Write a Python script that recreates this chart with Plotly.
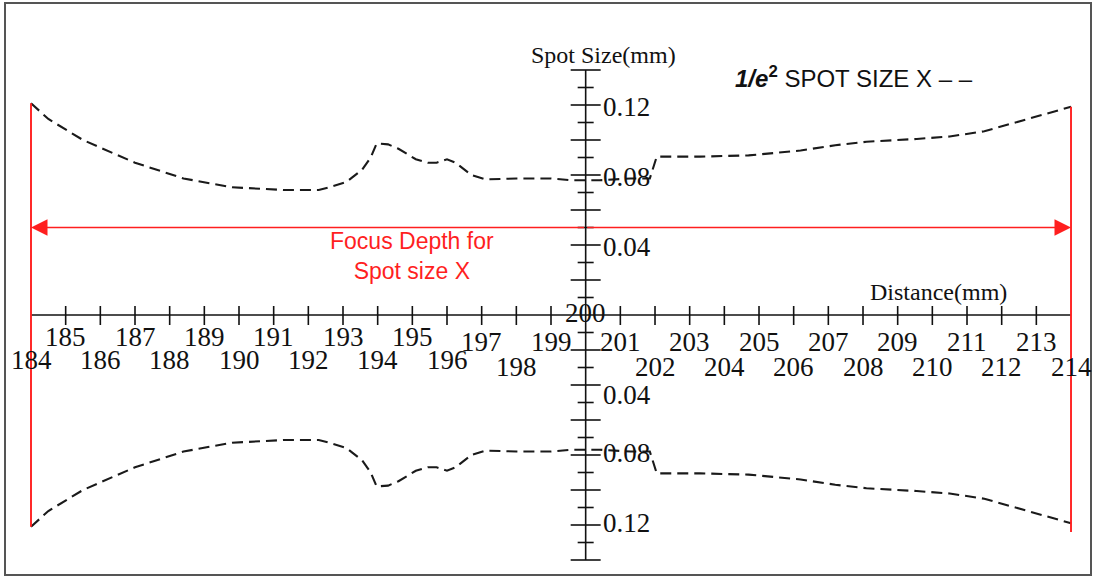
import plotly.graph_objects as go

# 1/e^2 spot size X (mm) vs distance (mm)
distance = [184, 184.5, 185.5, 187, 188.4, 189.8, 191.3, 192.3, 192.6, 193.1,
            193.55, 193.8, 193.97, 194.3, 194.6, 195.1, 195.45, 195.7, 196.0,
            196.25, 196.7, 197.1, 198.0, 199.0, 199.6, 200.4, 201.3, 201.85,
            202.05, 203.3, 204.7, 206.2, 207.2, 208.1, 209.55, 210.5, 211.5,
            212.4, 213.0, 214]
spot_size = [0.121, 0.112, 0.100, 0.087, 0.078, 0.073, 0.0714, 0.0714, 0.073,
             0.076, 0.083, 0.090, 0.098, 0.0975, 0.095, 0.089, 0.087, 0.087,
             0.089, 0.087, 0.080, 0.0775, 0.078, 0.078, 0.077, 0.077, 0.078,
             0.078, 0.0905, 0.0905, 0.0912, 0.094, 0.097, 0.099, 0.1006, 0.102,
             0.105, 0.110, 0.1135, 0.119]

x_ticks = list(range(185, 214))
x_labels = list(range(184, 215))
y_ticks = [round(i * 0.01, 2) for i in range(-14, 15) if i != 0]
y_labels = [0.12, 0.08, 0.04, -0.04, -0.08, -0.12]
focus_depth_y = 0.05
x_center = 200

PX_X = 34.667   # px per mm on x
PX_Y = 1750.0   # px per mm on y

fig = go.Figure()

# spot size envelope, upper and mirrored lower
for sign in (1, -1):
    fig.add_trace(go.Scatter(
        x=distance, y=[sign * v for v in spot_size], mode='lines',
        line=dict(color='#1a1a1a', width=2.1, dash='11px,6px'),
        hoverinfo='skip'
    ))

# axis lines and tick marks
ax_x, ax_y = [], []
ax_x += [x_labels[0], x_labels[-1], None]
ax_y += [0, 0, None]
ax_x += [x_center, x_center, None]
ax_y += [y_ticks[0], y_ticks[-1], None]
for t in x_ticks:
    if t == x_center:
        continue
    ax_x += [t, t, None]
    ax_y += [9 / PX_Y, -10 / PX_Y, None]
for t in y_ticks:
    half = (15 if round(abs(t) * 100) % 2 == 0 else 8) / PX_X
    ax_x += [x_center - half, x_center + half, None]
    ax_y += [t, t, None]
fig.add_trace(go.Scatter(x=ax_x, y=ax_y, mode='lines',
                         line=dict(color='#111', width=1.6), hoverinfo='skip'))

# red focus depth limits
red = '#ff1f1f'
fig.add_trace(go.Scatter(
    x=[distance[0], distance[0], None, distance[-1], distance[-1]],
    y=[spot_size[0], -spot_size[0], None, spot_size[-1], -spot_size[-1] - 0.005],
    mode='lines', line=dict(color=red, width=1.9), hoverinfo='skip'
))
for end in (distance[0], distance[-1]):
    fig.add_annotation(x=end, y=focus_depth_y, ax=x_center, ay=focus_depth_y,
                       xref='x', yref='y', axref='x', ayref='y', text='',
                       showarrow=True, arrowhead=2, arrowsize=2.2,
                       arrowwidth=1.5, arrowcolor=red)

serif = 'Liberation Serif'
sans = 'Liberation Sans'

# x tick labels in two staggered rows
for v in x_labels:
    if v == x_center:
        fig.add_annotation(x=v, y=0, text=str(v), showarrow=False, yshift=2,
                           font=dict(family=serif, size=27, color='#111'))
        continue
    left = v < 197
    if v % 2:
        yy = -(22 if left else 27) / PX_Y
    else:
        yy = -(45 if left else 52) / PX_Y
    fig.add_annotation(x=v, y=yy, text=str(v), showarrow=False,
                       font=dict(family=serif, size=27, color='#111'))

# y tick labels (the lower ones sit a little off their ticks in the original)
label_shift = {-0.04: -10, -0.08: 2, -0.12: 2}
for v in y_labels:
    fig.add_annotation(x=x_center + 15 / PX_X, y=v, text=f'{abs(v):.2f}',
                       showarrow=False, xanchor='left',
                       yshift=label_shift.get(v, -2),
                       font=dict(family=serif, size=27, color='#111'))

fig.add_annotation(x=200.5, y=0.1486, text='Spot Size(mm)', showarrow=False,
                   font=dict(family=serif, size=24, color='#111'))
fig.add_annotation(x=210.19, y=0.0131, text='Distance(mm)', showarrow=False,
                   font=dict(family=serif, size=24, color='#111'))
fig.add_annotation(x=195.0, y=0.0337, text='Focus Depth for<br>Spot size X',
                   showarrow=False, font=dict(family=sans, size=23, color=red))
fig.add_annotation(x=733 / 1094, y=1 - 60 / 577, xref='paper', yref='paper',
                   xanchor='left', showarrow=False,
                   text='<b><i>1/e</i><sup>2</sup></b> SPOT SIZE X – –',
                   font=dict(family=sans, size=24, color='#111'))

# outer frame
fig.add_shape(type='rect', xref='paper', yref='paper',
              x0=5 / 1094, x1=1091 / 1094, y0=1 - 575 / 577, y1=1 - 3 / 577,
              line=dict(color='#555', width=2))

x0 = x_labels[0] - 31 / PX_X
y1 = 315 / PX_Y
fig.update_layout(
    width=1094, height=577,
    margin=dict(l=0, r=0, t=0, b=0),
    paper_bgcolor='white', plot_bgcolor='white',
    showlegend=False,
    xaxis=dict(range=[x0, x0 + 1094 / PX_X], visible=False, fixedrange=True),
    yaxis=dict(range=[y1 - 577 / PX_Y, y1], visible=False, fixedrange=True),
)

fig.write_html("out.html", config={'displayModeBar': False},
               post_script="document.body.style.margin='0';"
                           "document.body.style.overflow='hidden';")
